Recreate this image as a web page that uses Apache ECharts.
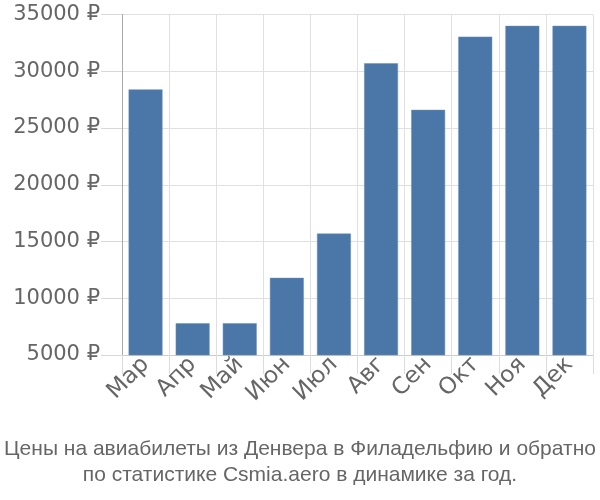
<!DOCTYPE html>
<html><head><meta charset="utf-8">
<script src="https://cdn.jsdelivr.net/npm/echarts@6/dist/echarts.min.js"></script>
<style>html,body{margin:0;padding:0;background:#fff}#c{width:600px;height:500px}</style>
</head><body><div id="c"></div>
<script>
var categories = ["Мар","Апр","Май","Июн","Июл","Авг","Сен","Окт","Ноя","Дек"];
var prices = [28400, 7800, 7800, 11800, 15700, 30700, 26600, 33050, 34000, 34000];
var titleLines = ["Цены на авиабилеты из Денвера в Филадельфию и обратно","по статистике Csmia.aero в динамике за год."];
var titleFont = "Liberation Sans";
var axisFont = "DejaVu Sans";
var chart = echarts.init(document.getElementById('c'), null, {renderer:'canvas'});
chart.setOption({
  animation:false,
  title:{text:titleLines.join("\n"), left:'center', top:431,
    textStyle:{fontFamily:titleFont, fontSize:21, fontWeight:'normal', color:'#666', lineHeight:26}},
  grid:{left:122, right:7, top:14.5, bottom:145, containLabel:false},
  xAxis:{type:'category', data:categories, boundaryGap:true,
    axisLine:{show:true, lineStyle:{color:'#ccc', width:1}},
    axisTick:{show:true, length:19, interval:0, lineStyle:{color:'#dcdcdc'}},
    splitLine:{show:true, interval:0, lineStyle:{color:'#e0e0e0'}},
    axisLabel:{rotate:45, interval:0, margin:6, fontFamily:axisFont, fontSize:23, color:'#666'}},
  yAxis:{type:'value', min:5000, max:35000, interval:5000,
    axisLine:{show:true, lineStyle:{color:'#aaa'}},
    axisTick:{show:true, length:21, lineStyle:{color:'#d8d8d8'}},
    splitLine:{show:true, lineStyle:{color:'#e0e0e0'}},
    axisLabel:{margin:22, fontFamily:axisFont, fontSize:21, color:'#666', formatter:function(v){return v+' ₽';}}},
  series:[{type:'bar', data:prices, barWidth:'72%',
    itemStyle:{color:'#4a77a7', borderColor:'#6b8fb8', borderWidth:0.5}}]
});
</script></body></html>
